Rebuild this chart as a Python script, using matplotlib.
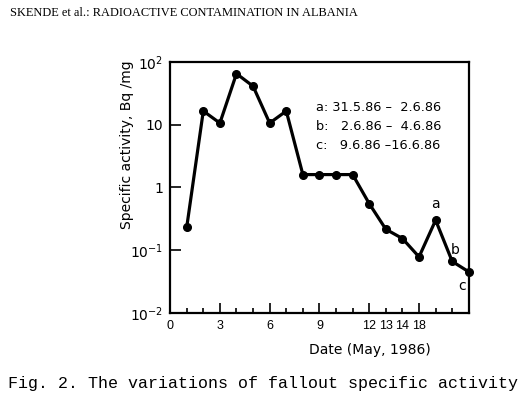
import numpy as np
import matplotlib
matplotlib.use("Agg")
from matplotlib import pyplot as plt

# positions on the axis (1..18) and measured values
pos = [1, 2, 3, 4, 5, 6, 7, 8, 9, 10, 11, 12, 13, 14, 15, 16, 17, 18]
activity = [0.23, 16.5, 10.6, 65, 41, 10.6, 16.5, 1.6, 1.6, 1.6, 1.6,
            0.55, 0.215, 0.153, 0.078, 0.30, 0.066, 0.045]

xtick_pos = [0, 3, 6, 9, 12, 13, 14, 15]
xtick_lab = ["0", "3", "6", "9", "12", "13", "14", "18"]
ytick_val = [1e-2, 1e-1, 1, 10, 1e2]
ytick_lab = ["10$^{-2}$", "10$^{-1}$", "1", "10", "10$^{2}$"]

legend_lines = ["a: 31.5.86 \u2013  2.6.86",
                "b:   2.6.86 \u2013  4.6.86",
                "c:   9.6.86 \u201316.6.86"]

plt.rcParams["font.family"] = "DejaVu Sans"
fig = plt.figure(figsize=(5.25, 3.97), dpi=100)
ax = fig.add_axes([0.324, 0.212, 0.569, 0.632])

ax.plot(pos, activity, color="black", lw=2.3, marker="o", ms=5.5, clip_on=False)
ax.set_yscale("log")
ax.set_ylim(1e-2, 1e2)
ax.set_xlim(0, 18)

ax.set_xticks(xtick_pos)
ax.set_xticklabels(xtick_lab, fontsize=9, family="Liberation Sans")
ax.set_xticks(range(0, 19), minor=True)
ax.set_yticks(ytick_val)
ax.set_yticklabels(ytick_lab, fontsize=10)
ax.yaxis.set_minor_locator(matplotlib.ticker.NullLocator())
ax.tick_params(axis="both", which="major", direction="in", length=7, width=1.2, pad=5)
ax.tick_params(axis="x", which="minor", direction="in", length=3.5, width=1.2)
ax.tick_params(axis="y", which="major", length=8)
for t in ax.xaxis.get_major_ticks()[5:7]:
    t.tick1line.set_markersize(3.5)
for s in ax.spines.values():
    s.set_linewidth(1.6)

ax.set_ylabel("Specific activity, Bq /mg", fontsize=10)
ax.yaxis.set_label_coords(-0.12, 0.67)
ax.set_xlabel("Date (May, 1986)", fontsize=10)
ax.xaxis.set_label_coords(0.67, -0.12)

ax.text(16, 0.54, "a", fontsize=10, ha="center", va="center")
ax.text(17.2, 0.1, "b", fontsize=10, ha="center", va="center")
ax.text(17.6, 0.027, "c", fontsize=10, ha="center", va="center")
for i, line in enumerate(legend_lines):
    ax.text(0.49, 0.82 - i * 0.0757, line, transform=ax.transAxes, fontsize=9.3, va="center")

fig.text(0.019, 0.967, "SKENDE et al.: RADIOACTIVE CONTAMINATION IN ALBANIA",
         family="Liberation Serif", fontsize=8.9, va="center", ha="left")
fig.text(0.015, 0.035, "Fig. 2. The variations of fallout specific activity",
         family="Liberation Mono", fontsize=12, va="center", ha="left")

fig.savefig("out.png", dpi=100)
